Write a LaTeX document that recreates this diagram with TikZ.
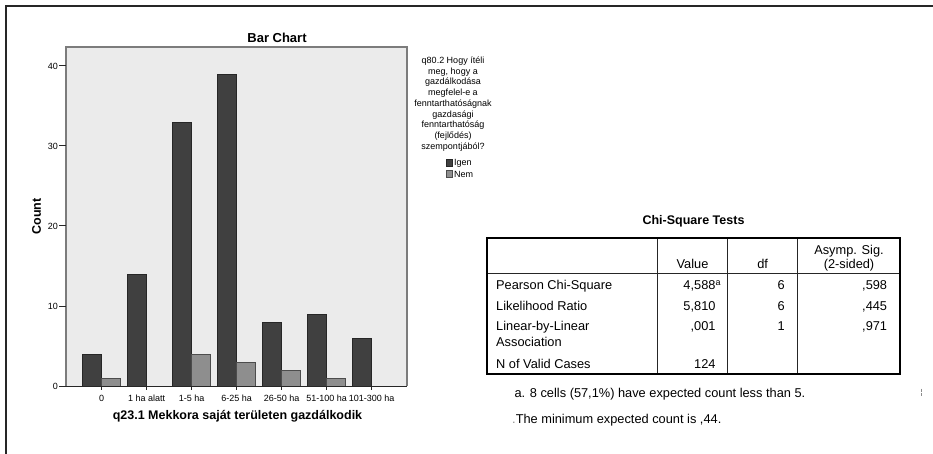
\documentclass[tikz,border=0pt]{standalone}
\usepackage{fontspec}
\setmainfont{Liberation Sans}
\usetikzlibrary{positioning}
\definecolor{plotbg}{HTML}{EBEBEB}
\definecolor{bardark}{HTML}{404040}
\definecolor{barlight}{HTML}{8E8E8E}
\definecolor{plotframe}{HTML}{7C7C7C}

\tikzset{
  ticklab/.style={font=\fontsize{9}{10}\selectfont, inner sep=1pt},
  legtext/.style={font=\fontsize{9}{10.7}\selectfont, inner sep=0pt},
  axtitle/.style={font=\fontsize{12.5}{14}\selectfont\bfseries, inner sep=0pt},
  cell/.style={font=\fontsize{12.8}{15.5}\selectfont, inner sep=0pt},
  darkbar/.style={draw=black!85, fill=bardark, line width=0.8pt},
  lightbar/.style={draw=black!70, fill=barlight, line width=0.8pt},
  axisline/.style={draw=black!85, line width=1pt},
  tabrule/.style={draw=black!85, line width=1.2pt},
  tabframe/.style={draw=black, line width=2pt}
}

\begin{document}
\begin{tikzpicture}[x=1pt, y=-1pt]
\useasboundingbox (0,0) rectangle (933,454);
% outer frame, cut at right and bottom
\draw[black!85, line width=1.5pt] (6,454) -- (6,6) -- (933,6);

% bar chart
\fill[plotbg] (66,47) rectangle (407,386);
\foreach \i/\igen/\nem/\cat in {0/4/1/0, 1/14/0/1 ha alatt, 2/33/4/1-5 ha, 3/39/3/6-25 ha, 4/8/2/26-50 ha, 5/9/1/51-100 ha, 6/6/0/101-300 ha} {
  \pgfmathsetmacro{\cx}{101.7+45*\i}
  \draw[darkbar] ({\cx-19},386) rectangle (\cx,{386-8*\igen});
  \ifnum\nem>0
    \draw[lightbar] (\cx,386) rectangle ({\cx+19},{386-8*\nem});
  \fi
  \draw[axisline] (\cx,386) -- (\cx,390);
  \node[ticklab, anchor=base] (xlab-\i) at (\cx,401) {\cat};
}
\draw[plotframe, line width=1.3pt] (66,386) -- (66,47) -- (407,47) -- (407,386);
\draw[axisline] (59,386) -- (407,386);
\foreach \v in {0,10,20,30,40} {
  \draw[axisline] (59,{386-8*\v}) -- (66,{386-8*\v});
  \node[ticklab, anchor=east] (ylab-\v) at (59,{386-8*\v}) {\v};
}
\node[axtitle, font=\fontsize{13}{15}\selectfont\bfseries] (bartitle) at (277,37.5) {Bar Chart};
\node[axtitle, rotate=90] (countlab) at (36.5,216.5) {Count};
\node[axtitle] (arealab) at (237.5,416) {q23.1 Mekkora saját területen gazdálkodik};

% legend
\node[legtext, align=center] (legtitle) at (453,104) {q80.2 Hogy ítéli\\meg, hogy a\\gazdálkodása\\megfelel-e a\\fenntarthatóságnak\\gazdasági\\fenntarthatóság\\(fejlődés)\\szempontjából?};
\draw[darkbar, line width=0.6pt] (446,159.5) rectangle (452.5,166);
\draw[lightbar, line width=0.6pt] (446,170.5) rectangle (452.5,177);
\node[legtext, anchor=west] (legigen) at (454,163) {Igen};
\node[legtext, anchor=west] (legnem) at (454,174) {Nem};

% chi-square table
\node[axtitle] (chititle) at (693.5,221) {Chi-Square Tests};
\draw[tabrule] (486.7,273.3) -- (900,273.3);
\foreach \xc in {657.3, 727.7, 797.7}
  \draw[tabrule] (\xc,238.3) -- (\xc,374.3);
\draw[tabframe] (486.7,238.3) rectangle (900,374.3);

\node[cell, anchor=base] (hval) at (692.5,268.5) {Value};
\node[cell, anchor=base] (hdf) at (762.7,268.5) {df};
\node[cell, anchor=base] (hsig) at (849,254.5) {Asymp. Sig.};
\node[cell, anchor=base] (hsided) at (849,268.5) {(2-sided)};

\node[cell, anchor=base west] (pearson) at (496,289.5) {Pearson Chi-Square};
\node[cell, anchor=base west] (likeli) at (496,310.5) {Likelihood Ratio};
\node[cell, anchor=base west] (linear) at (496,330.5) {Linear-by-Linear};
\node[cell, anchor=base west] (assoc) at (496,346) {Association};
\node[cell, anchor=base west] (nvalid) at (496,368.5) {N of Valid Cases};

\node[cell, anchor=base east] (pearsonval) at (715.7,289.5) {4,588\rlap{\textsuperscript{a}}};
\node[cell, anchor=base east] (likelival) at (715.7,310.5) {5,810};
\node[cell, anchor=base east] (linearval) at (715.7,330.5) {,001};
\node[cell, anchor=base east] (nvalidval) at (715.7,368.5) {124};

\node[cell, anchor=base east] (pearsondf) at (785,289.5) {6};
\node[cell, anchor=base east] (likelidf) at (785,310.5) {6};
\node[cell, anchor=base east] (lineardf) at (785,330.5) {1};

\node[cell, anchor=base east] (pearsonsig) at (887.3,289.5) {,598};
\node[cell, anchor=base east] (likelisig) at (887.3,310.5) {,445};
\node[cell, anchor=base east] (linearsig) at (887.3,330.5) {,971};

% footnotes
\node[cell, anchor=base west] (foota) at (514.3,397.2) {a. 8 cells (57,1\%) have expected count less than 5.};
\node[cell, anchor=base west] (footmin) at (512,423.5) {{\color{black!45}.}The minimum expected count is ,44.};
\draw[black!45, line width=0.6pt] (921,388.5) -- (921,391.5) (921,393) -- (921,396);
\end{tikzpicture}
\end{document}
